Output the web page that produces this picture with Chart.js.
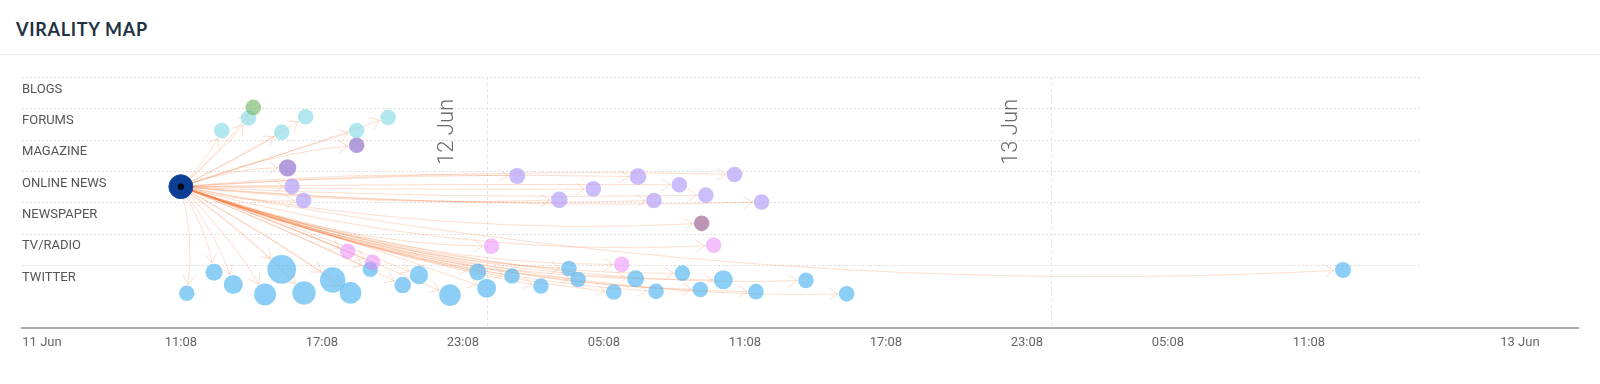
<!DOCTYPE html>
<html>
<head>
<meta charset="utf-8">
<script src="https://cdn.jsdelivr.net/npm/chart.js@4.4.1/dist/chart.umd.min.js"></script>
<style>
  html, body { margin: 0; padding: 0; background: #fff; }
  body { width: 1600px; height: 384px; overflow: hidden; position: relative; font-family: Roboto, sans-serif; }
  #hdr { height: 54px; border-bottom: 1px solid #ececec; position: relative; }
  #hdr span { position: absolute; left: 16px; top: 19px; font-family: Lato, "Open Sans", sans-serif; font-weight: 700; font-size: 18px; line-height: 20px; color: #22333f; letter-spacing: 0.7px; }
  #wrap { position: relative; width: 1600px; height: 329px; }
</style>
</head>
<body>
<div id="hdr"><span>VIRALITY MAP</span></div>
<div id="wrap"><canvas id="c"></canvas></div>
<script>
// ---- categories (lanes, top to bottom) ----
const categories = ["BLOGS", "FORUMS", "MAGAZINE", "ONLINE NEWS", "NEWSPAPER", "TV/RADIO", "TWITTER"];

// ---- x axis: hours since 11 Jun 00:00 ----
const tickHours  = [5.22, 11.13, 17.13, 23.13, 29.13, 35.13, 41.13, 47.13, 53.13, 59.13, 68.11];
const tickLabels = ["11 Jun", "11:08", "17:08", "23:08", "05:08", "11:08", "17:08", "23:08", "05:08", "11:08", "13 Jun"];
const dayMarkHours  = [24.17, 48.16];
const dayMarkLabels = ["12 Jun", "13 Jun"];
const axisRange = [4.37, 70.58];

// ---- origin article (ONLINE NEWS) ----
const sourceHours = [11.13];
const sourceLane  = [0.5];
const sourceSize  = [12];

// ---- mentions per category: time (h), position inside lane (0..1), bubble size ----
const blogsHours = [14.21];
const blogsLane  = [0.97];
const blogsSize  = [7.8];

const forumsHours = [12.87, 14.01, 15.42, 16.44, 18.61, 19.95];
const forumsLane  = [0.71, 0.31, 0.76, 0.27, 0.71, 0.29];
const forumsSize  = [7.8, 7.8, 7.8, 7.8, 7.8, 7.8];

const magazineHours = [15.67, 18.61];
const magazineLane  = [0.90, 0.18];
const magazineSize  = [8.7, 7.8];

const onlineHours = [15.86, 16.35, 25.44, 27.23, 28.68, 30.58, 31.26, 32.34, 33.47, 34.69, 35.84];
const onlineLane  = [0.49, 0.94, 0.16, 0.92, 0.57, 0.18, 0.94, 0.44, 0.77, 0.11, 0.99];
const onlineSize  = [7.8, 7.8, 8.0, 8.3, 7.8, 8.3, 7.8, 7.8, 7.8, 7.8, 7.8];

const newspaperHours = [33.29];
const newspaperLane  = [0.67];
const newspaperSize  = [7.8];

const tvHours = [18.23, 19.29, 24.35, 29.89, 33.80];
const tvLane  = [0.56, 0.91, 0.40, 0.98, 0.37];
const tvSize  = [7.8, 7.8, 7.8, 7.8, 7.8];

const twitterHours = [11.38, 12.54, 13.36, 14.71, 15.42, 16.37, 17.59, 18.35, 19.19, 20.57, 21.26, 22.58, 23.76, 24.14,
                      25.22, 26.45, 27.64, 28.03, 29.55, 30.48, 31.35, 32.47, 33.23, 34.21, 35.60, 37.73, 39.46, 60.58];
const twitterLane  = [0.90, 0.23, 0.62, 0.94, 0.14, 0.89, 0.48, 0.89, 0.14, 0.64, 0.32, 0.96, 0.22, 0.74,
                      0.35, 0.67, 0.11, 0.46, 0.86, 0.44, 0.84, 0.26, 0.78, 0.47, 0.85, 0.49, 0.92, 0.16];
const twitterSize  = [7.7, 8.5, 9.5, 11, 14.3, 11.7, 12.7, 10.8, 7.7, 8.3, 9.2, 10.8, 8.5, 9.5,
                      7.8, 7.8, 7.8, 7.8, 7.8, 8.5, 7.8, 7.8, 7.8, 9.5, 7.8, 7.8, 7.8, 8.0];

// ---- build datasets ----
function pts(cat, hours, lane, size) {
  const ci = categories.indexOf(cat);
  return hours.map((h, i) => ({ x: h, y: ci + lane[i], r: size[i] }));
}
const groups = [
  { cat: "TWITTER",     data: pts("TWITTER", twitterHours, twitterLane, twitterSize),         color: "rgba(79,179,240,0.65)" },
  { cat: "TV/RADIO",    data: pts("TV/RADIO", tvHours, tvLane, tvSize),                       color: "rgba(232,130,250,0.5)" },
  { cat: "NEWSPAPER",   data: pts("NEWSPAPER", newspaperHours, newspaperLane, newspaperSize), color: "rgba(150,85,135,0.62)" },
  { cat: "ONLINE NEWS", data: pts("ONLINE NEWS", onlineHours, onlineLane, onlineSize),        color: "rgba(179,157,250,0.68)" },
  { cat: "MAGAZINE",    data: pts("MAGAZINE", magazineHours, magazineLane, magazineSize),     color: "rgba(145,110,205,0.68)" },
  { cat: "FORUMS",      data: pts("FORUMS", forumsHours, forumsLane, forumsSize),             color: "rgba(128,215,228,0.6)" },
  { cat: "BLOGS",       data: pts("BLOGS", blogsHours, blogsLane, blogsSize),                 color: "rgba(110,180,95,0.62)" }
];
const sourcePts = pts("ONLINE NEWS", sourceHours, sourceLane, sourceSize);

const datasets = [
  { label: "origin-core", data: sourcePts.map(p => ({ x: p.x, y: p.y, r: 3.2 })), backgroundColor: "#050a14", borderWidth: 0 },
  { label: "origin", data: sourcePts, backgroundColor: "#0c3f93", borderColor: "#1b4fa3", borderWidth: 1 }
].concat(groups.slice().reverse().map(g => ({ label: g.cat, data: g.data, backgroundColor: g.color, borderWidth: 0 })));

// ---- drawing helpers (plugin) ----
const EDGE = "rgba(242,128,66,0.26)";
const vmPlugin = {
  id: "vm",
  beforeDatasetsDraw(chart) {
    const { ctx, chartArea: a, scales: { x, y } } = chart;
    ctx.save();
    // lane grid lines (dotted)
    const gridRight = x.getPixelForValue(63.9);
    ctx.strokeStyle = "#dedede";
    ctx.lineWidth = 1;
    ctx.setLineDash([2, 2]);
    categories.forEach((c, i) => {
      const py = Math.round(y.getPixelForValue(i)) + 0.5;
      ctx.beginPath(); ctx.moveTo(a.left, py); ctx.lineTo(gridRight, py); ctx.stroke();
    });
    // day separators
    ctx.strokeStyle = "#e2e2e2";
    ctx.setLineDash([3, 3]);
    dayMarkHours.forEach((h, i) => {
      const px = Math.round(x.getPixelForValue(h)) + 0.5;
      ctx.beginPath(); ctx.moveTo(px, a.top); ctx.lineTo(px, a.bottom); ctx.stroke();
      ctx.save();
      ctx.translate(px - 35, a.top + 88);
      ctx.rotate(-Math.PI / 2);
      ctx.fillStyle = "#6a6a6a";
      ctx.font = "300 22px Roboto";
      ctx.textAlign = "left";
      ctx.textBaseline = "alphabetic";
      ctx.fillText(dayMarkLabels[i], 0, 0);
      ctx.restore();
    });
    ctx.setLineDash([]);
    // category labels
    ctx.fillStyle = "#555";
    ctx.font = "13px Roboto";
    ctx.textAlign = "left";
    ctx.textBaseline = "middle";
    categories.forEach((c, i) => {
      ctx.fillText(c, a.left, y.getPixelForValue(i) + 12.5);
    });
    // propagation edges with arrow heads
    const s = sourcePts[0];
    const sx = x.getPixelForValue(s.x), sy = y.getPixelForValue(s.y);
    ctx.strokeStyle = EDGE;
    ctx.lineWidth = 1;
    groups.forEach(g => g.data.forEach(p => {
      const tx = x.getPixelForValue(p.x), ty = y.getPixelForValue(p.y);
      const dx = tx - sx, dy = ty - sy;
      const f = Math.max(0, 1 - 3 * Math.abs(dy) / Math.max(1, Math.abs(dx)));
      const cx = sx + dx * 0.5 + Math.abs(dy) * 0.1;
      const cy = sy + dy * (0.5 + 1.1 * f);
      // tangent at end
      let ux = tx - cx, uy = ty - cy;
      const L = Math.hypot(ux, uy) || 1; ux /= L; uy /= L;
      const ex = tx - ux * (p.r + 1), ey = ty - uy * (p.r + 1);
      ctx.beginPath(); ctx.moveTo(sx, sy); ctx.quadraticCurveTo(cx, cy, ex, ey); ctx.stroke();
      const al = 11, ang = 0.6;
      const ca = Math.cos(ang), sa = Math.sin(ang);
      const bx = -ux, by = -uy;
      ctx.beginPath();
      ctx.moveTo(ex + al * (bx * ca - by * sa), ey + al * (bx * sa + by * ca));
      ctx.lineTo(ex, ey);
      ctx.lineTo(ex + al * (bx * ca + by * sa), ey + al * (-bx * sa + by * ca));
      ctx.stroke();
    }));
    ctx.restore();
  }
};

new Chart(document.getElementById("c"), {
  type: "bubble",
  data: { datasets },
  options: {
    responsive: true,
    maintainAspectRatio: false,
    animation: false,
    events: [],
    layout: { padding: { top: 22, left: 22, right: 22, bottom: 0 } },
    plugins: { legend: { display: false }, tooltip: { enabled: false } },
    elements: { point: { hoverRadius: 0 } },
    scales: {
      x: {
        type: "linear",
        min: axisRange[0],
        max: axisRange[1],
        grid: { display: false, drawTicks: false },
        border: { display: true, color: "#ababab", width: 2 },
        afterBuildTicks: s => { s.ticks = tickHours.map(v => ({ value: v })); },
        afterFit: s => { s.height = 56; },
        ticks: {
          autoSkip: false,
          maxRotation: 0,
          padding: 7,
          color: "#666",
          font: { family: "Roboto", size: 13 },
          callback: (v, i) => tickLabels[i]
        }
      },
      y: {
        type: "linear",
        reverse: true,
        min: 0,
        max: 8.01,
        display: false
      }
    }
  },
  plugins: [vmPlugin]
});
</script>
</body>
</html>
